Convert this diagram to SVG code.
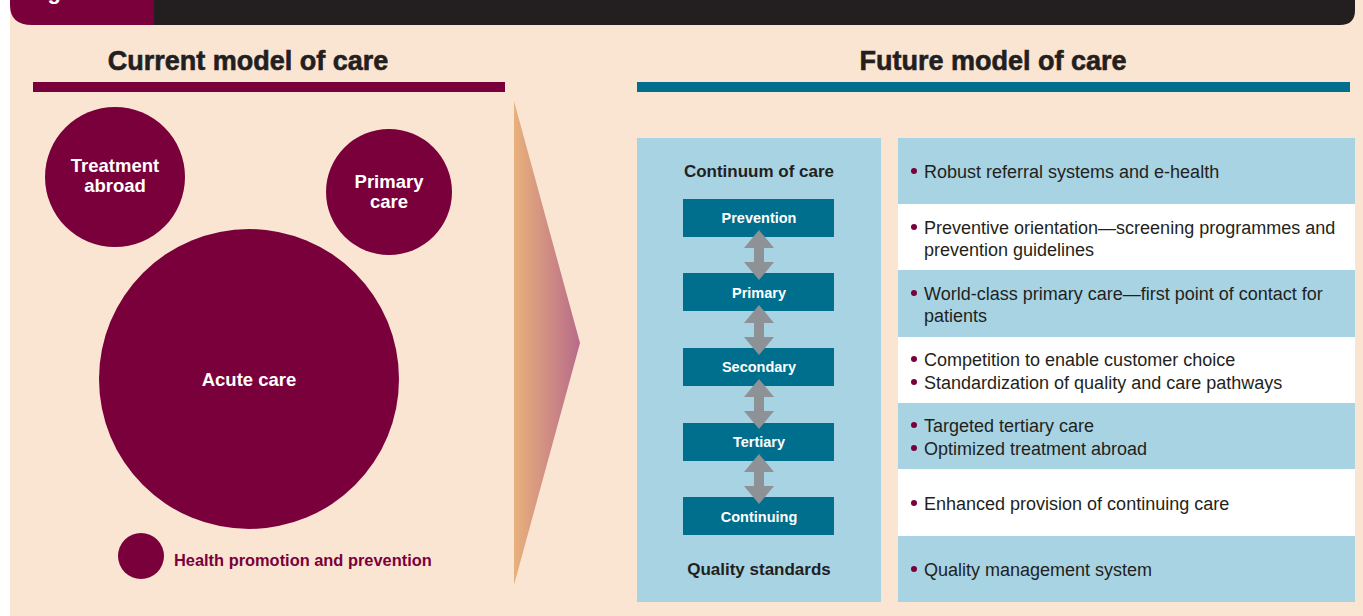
<svg xmlns="http://www.w3.org/2000/svg" width="1363" height="616" viewBox="0 0 1363 616">
<style>
.t{font-family:"Liberation Sans",Arial,sans-serif}
.title{font-size:27px;font-weight:bold;fill:#231F20;text-anchor:middle;stroke:#231F20;stroke-width:0.6}
.cw{font-size:18.5px;font-weight:bold;fill:#fff;text-anchor:middle}
.bx{fill:#006F8E}
.bt{font-size:14.5px;font-weight:bold;fill:#fff;text-anchor:middle}
.hd{font-size:17px;font-weight:bold;fill:#231F20;text-anchor:middle}
.row{font-size:18px;fill:#231F20}
.bl{fill:#7A003C}
.arr{fill:#8E9196}
</style>
<defs>
<linearGradient id="g" x1="0" y1="0" x2="1" y2="0">
<stop offset="0" stop-color="#E9B17C"/>
<stop offset="1" stop-color="#B86B8A"/>
</linearGradient>
<path id="da" d="M0,0 L15,18 L5,18 L5,32 L15,32 L0,50 L-15,32 L-5,32 L-5,18 L-15,18 Z"/>
</defs>
<rect width="1363" height="616" fill="#fff"/>
<rect x="10" y="0" width="1353" height="616" fill="#FAE5D3"/>
<g id="header">
<path d="M10,0 H154 V25 H32 Q10,25 10,5 Z" fill="#7A003C"/>
<path d="M154,0 H1355 V10 Q1355,25 1340,25 H154 Z" fill="#231F20"/>
<text class="t" x="28" y="-1" font-size="22" font-weight="bold" fill="#fff">Figure</text>
</g>
<g id="current-title">
<text class="t title" x="248" y="70">Current model of care</text>
<rect x="33" y="82" width="472" height="10" fill="#7A003C"/>
</g>
<g id="future-title">
<text class="t title" x="993" y="70">Future model of care</text>
<rect x="637" y="82" width="713" height="10" fill="#006F8E"/>
</g>
<g id="treatment-abroad">
<circle cx="115" cy="177" r="70" fill="#7A003C"/>
<text class="t cw" x="115" y="172">Treatment</text>
<text class="t cw" x="115" y="192">abroad</text>
</g>
<g id="primary-care">
<circle cx="389" cy="192" r="63" fill="#7A003C"/>
<text class="t cw" x="389" y="188">Primary</text>
<text class="t cw" x="389" y="208">care</text>
</g>
<g id="acute-care">
<circle cx="249" cy="379" r="150" fill="#7A003C"/>
<text class="t cw" x="249" y="386">Acute care</text>
</g>
<g id="health-promotion">
<circle cx="141" cy="556" r="23" fill="#7A003C"/>
<text class="t" x="174" y="566" font-size="16.4" font-weight="bold" fill="#7A003C">Health promotion and prevention</text>
</g>
<g id="transition-arrow">
<polygon points="514,101 580,343 514,585" fill="url(#g)"/>
</g>
<g id="continuum">
<rect x="637" y="138" width="244" height="464" fill="#A7D3E3"/>
<text class="t hd" x="759" y="177">Continuum of care</text>
<text class="t hd" x="759" y="575">Quality standards</text>
</g>
<g id="prevention"><rect class="bx" x="683" y="199" width="151" height="38"/><text class="t bt" x="759" y="223">Prevention</text></g>
<g id="primary"><rect class="bx" x="683" y="273" width="151" height="38"/><text class="t bt" x="759" y="298">Primary</text></g>
<g id="secondary"><rect class="bx" x="683" y="348" width="151" height="38"/><text class="t bt" x="759" y="372">Secondary</text></g>
<g id="tertiary"><rect class="bx" x="683" y="423" width="151" height="38"/><text class="t bt" x="759" y="447">Tertiary</text></g>
<g id="continuing"><rect class="bx" x="683" y="497" width="151" height="38"/><text class="t bt" x="759" y="522">Continuing</text></g>
<g id="connectors">
<use href="#da" class="arr" x="759" y="230"/>
<use href="#da" class="arr" x="759" y="305"/>
<use href="#da" class="arr" x="759" y="379"/>
<use href="#da" class="arr" x="759" y="454"/>
</g>
<g id="rows">
<rect x="898" y="138" width="457" height="66" fill="#A7D3E3"/>
<rect x="898" y="204" width="457" height="66" fill="#fff"/>
<rect x="898" y="270" width="457" height="67" fill="#A7D3E3"/>
<rect x="898" y="337" width="457" height="66" fill="#fff"/>
<rect x="898" y="403" width="457" height="66" fill="#A7D3E3"/>
<rect x="898" y="469" width="457" height="67" fill="#fff"/>
<rect x="898" y="536" width="457" height="66" fill="#A7D3E3"/>
<g class="bullets">
<circle class="bl" cx="914" cy="171" r="3"/>
<circle class="bl" cx="914" cy="227" r="3"/>
<circle class="bl" cx="914" cy="293" r="3"/>
<circle class="bl" cx="914" cy="359" r="3"/>
<circle class="bl" cx="914" cy="382" r="3"/>
<circle class="bl" cx="914" cy="425" r="3"/>
<circle class="bl" cx="914" cy="448" r="3"/>
<circle class="bl" cx="914" cy="503" r="3"/>
<circle class="bl" cx="914" cy="569" r="3"/>
</g>
<text class="t row" x="924" y="178">Robust referral systems and e-health</text>
<text class="t row" x="924" y="234">Preventive orientation—screening programmes and</text>
<text class="t row" x="924" y="256">prevention guidelines</text>
<text class="t row" x="924" y="300">World-class primary care—first point of contact for</text>
<text class="t row" x="924" y="322">patients</text>
<text class="t row" x="924" y="366">Competition to enable customer choice</text>
<text class="t row" x="924" y="389">Standardization of quality and care pathways</text>
<text class="t row" x="924" y="432">Targeted tertiary care</text>
<text class="t row" x="924" y="455">Optimized treatment abroad</text>
<text class="t row" x="924" y="510">Enhanced provision of continuing care</text>
<text class="t row" x="924" y="576">Quality management system</text>
</g>
</svg>
